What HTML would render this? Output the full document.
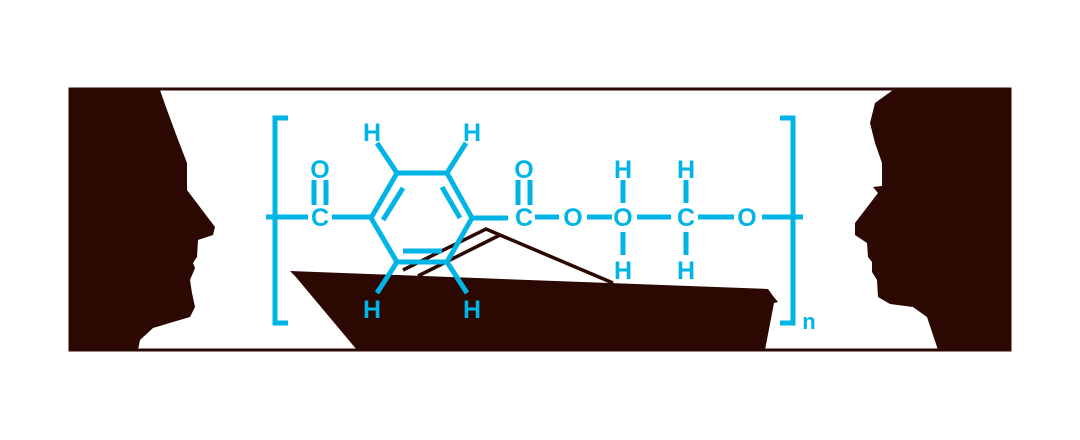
<!DOCTYPE html>
<html><head><meta charset="utf-8"><style>html,body{margin:0;padding:0;background:#fff}svg{display:block}</style></head>
<body>
<svg width="1080" height="440" viewBox="0 0 1080 440" xmlns="http://www.w3.org/2000/svg">
<rect x="70" y="89" width="940" height="261" fill="#fff" stroke="#2c0802" stroke-width="3"/>
<!-- left face -->
<path fill="#2c0802" d="M70,89 L160,90 L167,110 L177,137 L187,163 L187,190 L215,227 L213,235 L198,240 L197,257 L193,263 L195,268 L190,280 L192,293 L195,307 L190,317 L173,322 L153,328 L140,340 L138,350 L70,350 Z"/>
<!-- right face -->
<path fill="#2c0802" d="M1010,89 L893,90 L875,103 L870,123 L875,143 L882,163 L882,186 L873,187 L878,193 L855,223 L855,235 L867,243 L868,257 L872,262 L872,272 L877,280 L878,297 L890,304 L913,307 L927,317 L938,350 L1010,350 Z"/>
<!-- boat -->
<path fill="#2c0802" d="M290,271 L768,289 L773,296 L778,302 L774,303 L765,350 L357,350 L295,276 Z"/>
<g stroke="#2c0802" stroke-width="3.5" fill="none">
<path d="M403,270 L486,229 L500,235 L613,283"/>
<path d="M418,276 L500,235"/>
</g>
<g stroke="#00b4e6" stroke-width="5" fill="none">
<path d="M288,118 L275,118 L275,323 L288,323"/>
<path d="M780,118 L793,118 L793,323 L780,323"/>
<path d="M266,217 L308,217"/>
<path d="M314,180 V205 M326,180 V205"/>
<path d="M332,217 H371"/>
<path d="M371,218 L397,173 L447,173 L472,218 L447,262 L397,262 Z"/>
<path d="M403,188 L383,220 M442,187 L460,218 M403,251 L442,251"/>
<path d="M397,173 L377,143 M447,173 L466,143"/>
<path d="M397,262 L377,293 M447,262 L467,293"/>
<path d="M472,218 H508"/>
<path d="M518,180 V205 M530,180 V205"/>
<path d="M535,217 H559 M587,217 H612 M637,217 H671 M698,217 H734 M762,217 H803"/>
<path d="M623,180 V203 M623,232 V255 M686,180 V203 M686,232 V255"/>
</g>
<g fill="#00b4e6" font-family="Liberation Sans, sans-serif" font-weight="bold" font-size="25" text-anchor="middle">
<text x="320" y="226">C</text>
<text x="320" y="178">O</text>
<text x="372" y="141">H</text>
<text x="472" y="141">H</text>
<text x="372" y="318">H</text>
<text x="472" y="318">H</text>
<text x="524" y="226">C</text>
<text x="524" y="178">O</text>
<text x="573" y="226">O</text>
<text x="623" y="226">O</text>
<text x="623" y="178">H</text>
<text x="623" y="279">H</text>
<text x="686" y="226">C</text>
<text x="686" y="178">H</text>
<text x="686" y="279">H</text>
<text x="747" y="226">O</text>
<text x="809" y="329" font-size="22">n</text>
</g>
</svg>
</body></html>
